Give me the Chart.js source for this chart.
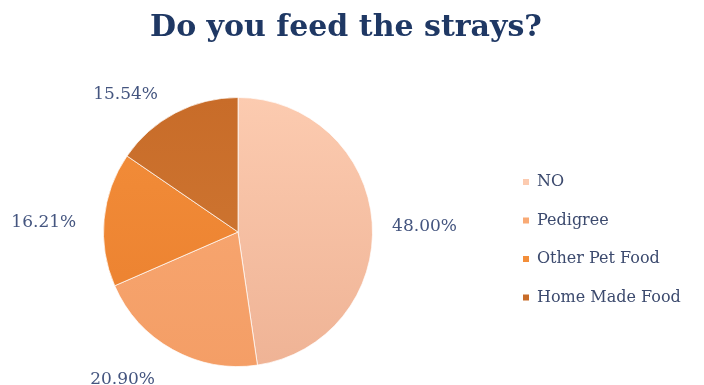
<!DOCTYPE html>
<html>
<head>
<meta charset="utf-8">
<script src="https://cdn.jsdelivr.net/npm/chart.js@4.4.1/dist/chart.umd.min.js"></script>
<style>
  html, body { margin: 0; padding: 0; background: #ffffff; }
  #wrap { position: relative; width: 704px; height: 385px; }
</style>
</head>
<body>
<div id="wrap"><canvas id="strayChart" width="704" height="385"></canvas></div>
<script>
const titleText = 'Do you feed the strays?';
const categories = ['NO', 'Pedigree', 'Other Pet Food', 'Home Made Food'];
const shares = [48.00, 20.90, 16.21, 15.54];

// top / bottom shade of each slice
const topColors = ['#fccbb0', '#f9aa75', '#f38e3a', '#c86c29'];
const bottomColors = ['#efb395', '#f49e66', '#ea7f2e', '#d17a35'];

const textBlue = '#1f3864';
const labelBlue = '#44557f';

function sliceFill(context) {
    const chart = context.chart;
    const area = chart.chartArea;
    if (!area) return topColors[context.dataIndex];
    const g = chart.ctx.createLinearGradient(0, area.top, 0, area.bottom);
    g.addColorStop(0, topColors[context.dataIndex]);
    g.addColorStop(1, bottomColors[context.dataIndex]);
    return g;
}

// title, legend and the percentage labels
const decorations = {
    id: 'decorations',
    afterDraw(chart) {
        const ctx = chart.ctx;
        ctx.save();

        ctx.fillStyle = textBlue;
        ctx.font = 'bold 30px "DejaVu Serif", serif';
        ctx.textAlign = 'center';
        ctx.textBaseline = 'alphabetic';
        ctx.fillText(titleText, 346, 36);

        ctx.textAlign = 'left';
        ctx.textBaseline = 'middle';
        ctx.font = '16px "DejaVu Serif", serif';
        categories.forEach((name, i) => {
            const y = 182 + i * 38.5;
            ctx.fillStyle = topColors[i];
            ctx.fillRect(523, y - 3, 6, 6);
            ctx.fillStyle = '#3c4a6e';
            ctx.fillText(name, 537, y);
        });

        // labels sit just outside the rim, pushed away from the pie by half their size
        const meta = chart.getDatasetMeta(0);
        ctx.font = '17px "DejaVu Serif", serif';
        ctx.fillStyle = labelBlue;
        ctx.textAlign = 'center';
        meta.data.forEach((arc, i) => {
            const text = shares[i].toFixed(2) + '%';
            const w = ctx.measureText(text).width;
            const h = 15;
            const mid = (arc.startAngle + arc.endAngle) / 2;
            const cx = Math.cos(mid), sy = Math.sin(mid);
            const r = arc.outerRadius + 20;
            const gap = cx < 0 ? 8 : 0;
            const x = arc.x + cx * r + Math.sign(cx) * (w / 2 + gap);
            const y = arc.y + sy * r + sy * h / 2 + 6;
            ctx.fillText(text, x, y);
        });
        ctx.restore();
    }
};

new Chart(document.getElementById('strayChart'), {
    type: 'pie',
    data: {
        labels: categories,
        datasets: [{
            data: shares,
            backgroundColor: sliceFill,
            borderColor: 'rgba(255,255,255,0.7)',
            borderWidth: 1
        }]
    },
    options: {
        responsive: false,
        animation: false,
        layout: { padding: { left: 103, right: 331, top: 97, bottom: 18 } },
        plugins: {
            legend: { display: false },
            tooltip: { enabled: false }
        }
    },
    plugins: [decorations]
});
</script>
</body>
</html>
